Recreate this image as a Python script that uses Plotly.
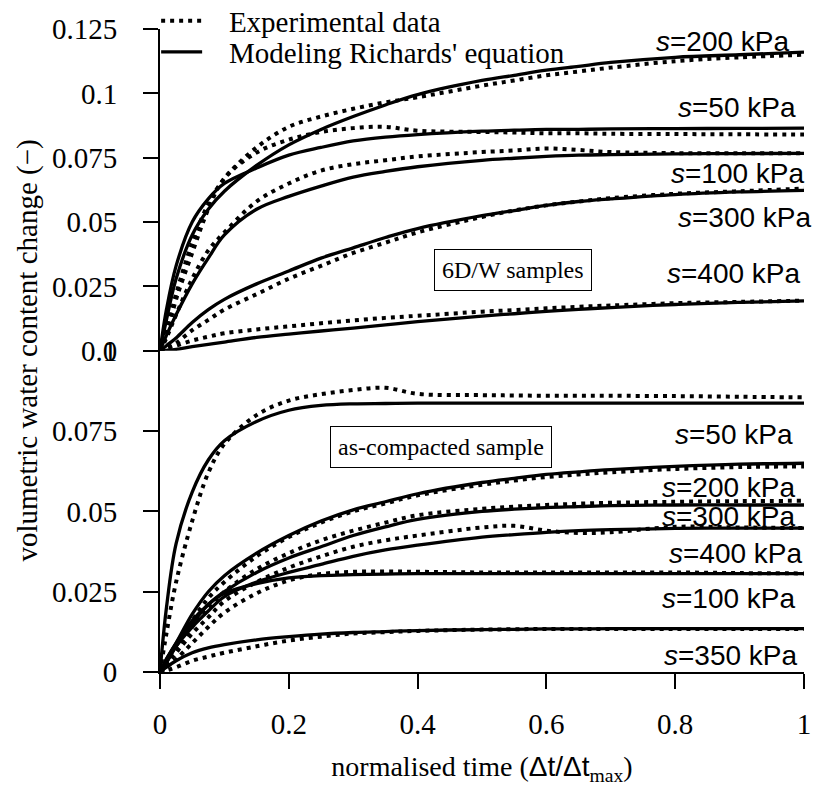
import plotly.graph_objects as go

# normalised time grid
t = [0, 0.01, 0.025, 0.05, 0.075, 0.1, 0.15, 0.2, 0.25, 0.3, 0.35, 0.4, 0.5, 0.55, 0.6, 0.65, 0.7, 0.8, 0.9, 1.0]

# ---- 6D/W samples (upper panel) ----
top_labels = ["200", "50", "100", "300", "400"]
top_model_200 = [0, 0.012, 0.028, 0.045, 0.055, 0.062, 0.072, 0.080, 0.086, 0.091, 0.0955, 0.0995, 0.105, 0.107, 0.109, 0.1105, 0.112, 0.114, 0.115, 0.116]
top_model_50 = [0, 0.016, 0.033, 0.050, 0.059, 0.065, 0.071, 0.076, 0.079, 0.0815, 0.083, 0.084, 0.0853, 0.0857, 0.086, 0.086, 0.0862, 0.0863, 0.0864, 0.0865]
top_model_100 = [0, 0.006, 0.014, 0.026, 0.036, 0.045, 0.055, 0.060, 0.064, 0.0675, 0.0697, 0.0715, 0.074, 0.0748, 0.0755, 0.076, 0.0762, 0.0765, 0.0766, 0.0767]
top_model_300 = [0, 0.002, 0.005, 0.011, 0.016, 0.020, 0.026, 0.031, 0.036, 0.040, 0.044, 0.0475, 0.0525, 0.0545, 0.0565, 0.058, 0.059, 0.0607, 0.0617, 0.0623]
top_model_400 = [0, 0.0002, 0.0006, 0.0016, 0.0025, 0.0034, 0.0052, 0.0065, 0.0077, 0.0088, 0.0101, 0.0113, 0.0135, 0.0144, 0.0153, 0.0161, 0.0168, 0.018, 0.0188, 0.0194]

top_exp_200 = [0, 0.008, 0.022, 0.042, 0.057, 0.067, 0.079, 0.087, 0.091, 0.094, 0.0965, 0.0985, 0.103, 0.105, 0.107, 0.1085, 0.110, 0.1125, 0.114, 0.115]
top_exp_50 = [0, 0.006, 0.020, 0.038, 0.055, 0.067, 0.077, 0.082, 0.085, 0.0865, 0.087, 0.0855, 0.085, 0.0848, 0.0845, 0.0845, 0.0843, 0.0842, 0.0841, 0.084]
top_exp_100 = [0, 0.005, 0.014, 0.028, 0.039, 0.046, 0.058, 0.065, 0.070, 0.0725, 0.074, 0.0755, 0.0772, 0.0778, 0.0786, 0.078, 0.0772, 0.0768, 0.0767, 0.0767]
top_exp_300 = [0, 0.001, 0.003, 0.008, 0.012, 0.016, 0.022, 0.028, 0.033, 0.038, 0.042, 0.046, 0.052, 0.0545, 0.0565, 0.058, 0.0593, 0.061, 0.062, 0.063]
top_exp_400 = [0, 0.001, 0.002, 0.004, 0.0055, 0.0068, 0.0083, 0.0095, 0.0107, 0.0118, 0.0128, 0.0136, 0.0152, 0.0158, 0.0165, 0.0171, 0.0176, 0.0185, 0.019, 0.0195]

# ---- as-compacted sample (lower panel) ----
bot_labels = ["50", "200", "300", "400", "100", "350"]
bot_model_50 = [0, 0.020, 0.040, 0.056, 0.066, 0.072, 0.078, 0.0815, 0.083, 0.0835, 0.0836, 0.0837, 0.0837, 0.0837, 0.0837, 0.0837, 0.0837, 0.0837, 0.0837, 0.0837]
bot_model_200 = [0, 0.004, 0.009, 0.018, 0.025, 0.030, 0.037, 0.0425, 0.047, 0.0505, 0.053, 0.0555, 0.059, 0.0603, 0.0615, 0.0623, 0.063, 0.064, 0.0647, 0.065]
bot_model_300 = [0, 0.003, 0.008, 0.015, 0.021, 0.025, 0.031, 0.0355, 0.039, 0.0425, 0.0452, 0.0475, 0.050, 0.0507, 0.0512, 0.0515, 0.0518, 0.052, 0.052, 0.052]
bot_model_400 = [0, 0.003, 0.008, 0.014, 0.019, 0.0235, 0.028, 0.031, 0.0335, 0.036, 0.038, 0.0395, 0.042, 0.0428, 0.0435, 0.044, 0.0443, 0.0447, 0.0448, 0.0448]
bot_model_100 = [0, 0.004, 0.009, 0.016, 0.021, 0.0245, 0.0275, 0.0293, 0.030, 0.0303, 0.0305, 0.0306, 0.0306, 0.0306, 0.0306, 0.0306, 0.0306, 0.0306, 0.0306, 0.0306]
bot_model_350 = [0, 0.0015, 0.0035, 0.006, 0.0075, 0.0085, 0.010, 0.011, 0.0118, 0.0123, 0.0126, 0.0129, 0.0132, 0.0133, 0.0134, 0.0134, 0.0135, 0.0135, 0.0135, 0.0135]

bot_exp_50 = [0, 0.012, 0.028, 0.047, 0.062, 0.071, 0.080, 0.0845, 0.0865, 0.0878, 0.0885, 0.0866, 0.0862, 0.0861, 0.086, 0.086, 0.086, 0.0859, 0.0857, 0.0855]
bot_exp_200 = [0, 0.003, 0.008, 0.016, 0.023, 0.028, 0.036, 0.042, 0.0465, 0.050, 0.0525, 0.055, 0.0583, 0.0596, 0.0607, 0.0615, 0.0622, 0.0632, 0.0638, 0.064]
bot_exp_300 = [0, 0.003, 0.007, 0.014, 0.020, 0.025, 0.032, 0.037, 0.041, 0.044, 0.0465, 0.0488, 0.0508, 0.0515, 0.052, 0.0524, 0.0527, 0.053, 0.0532, 0.0533]
bot_exp_400 = [0, 0.002, 0.006, 0.012, 0.017, 0.022, 0.028, 0.0325, 0.036, 0.039, 0.041, 0.0425, 0.045, 0.0455, 0.044, 0.0433, 0.0435, 0.0452, 0.045, 0.0448]
bot_exp_100 = [0, 0.0015, 0.004, 0.009, 0.014, 0.0185, 0.0245, 0.0285, 0.0305, 0.0312, 0.0313, 0.0312, 0.031, 0.031, 0.031, 0.031, 0.031, 0.031, 0.0308, 0.0307]
bot_exp_350 = [0, 0.0005, 0.0015, 0.0035, 0.0048, 0.006, 0.008, 0.0098, 0.011, 0.012, 0.0124, 0.0128, 0.0132, 0.0133, 0.0134, 0.0134, 0.0134, 0.0134, 0.0134, 0.0134]

y_ticks_top = [0, 0.025, 0.05, 0.075, 0.1, 0.125]
y_text_top = ["0", "0.025", "0.05", "0.075", "0.1", "0.125"]
y_ticks_bot = [0, 0.025, 0.05, 0.075, 0.1]
y_text_bot = ["0", "0.025", "0.05", "0.075", "0.1"]
x_ticks = [0, 0.2, 0.4, 0.6, 0.8, 1.0]
x_text = ["0", "0.2", "0.4", "0.6", "0.8", "1"]

SERIF = "Liberation Serif"
SANS = "Liberation Sans"
NB = "\u00a0"

top_model = [top_model_200, top_model_50, top_model_100, top_model_300, top_model_400]
top_exp = [top_exp_200, top_exp_50, top_exp_100, top_exp_300, top_exp_400]
bot_model = [bot_model_50, bot_model_200, bot_model_300, bot_model_400, bot_model_100, bot_model_350]
bot_exp = [bot_exp_50, bot_exp_200, bot_exp_300, bot_exp_400, bot_exp_100, bot_exp_350]

dot_line = dict(color="black", width=4, dash="4px,5px")
solid_line = dict(color="black", width=3.3)

fig = go.Figure()
first_exp = True
first_mod = True
for exps, mods, yax in [(top_exp, top_model, "y2"), (bot_exp, bot_model, "y")]:
    for ye in exps:
        fig.add_trace(go.Scatter(x=t, y=ye, mode="lines", yaxis=yax, line=dot_line,
                                 line_shape="spline", name=NB * 3 + "Experimental data",
                                 showlegend=first_exp, legend="legend"))
        first_exp = False
    for ym in mods:
        fig.add_trace(go.Scatter(x=t, y=ym, mode="lines", yaxis=yax, line=solid_line,
                                 line_shape="spline", name=NB * 3 + "Modeling Richards' equation",
                                 showlegend=first_mod, legend="legend2"))
        first_mod = False

# label anchors: right end of the axis (x=1) with pixel shifts
ann = []
top_pos = [(-12, 0.1202), (-6, 0.0946), (3, 0.069), (10, 0.0519), (-1, 0.0302)]
for lab, (dx, yy) in zip(top_labels, top_pos):
    ann.append(dict(x=1, y=yy, xref="x", yref="y2", xshift=dx, text=f"<i>s</i>={lab} kPa",
                    showarrow=False, xanchor="right", yanchor="middle",
                    font=dict(family=SANS, size=28, color="black")))
bot_pos = [(-9, 0.0741), (-6, 0.0575), (-6, 0.0485), (1, 0.037), (-6, 0.023), (-4, 0.0052)]
for lab, (dx, yy) in zip(bot_labels, bot_pos):
    ann.append(dict(x=1, y=yy, xref="x", yref="y", xshift=dx, text=f"<i>s</i>={lab} kPa",
                    showarrow=False, xanchor="right", yanchor="middle",
                    font=dict(family=SANS, size=28, color="black")))
ann.append(dict(x=0.548, y=0.0313, xref="x", yref="y2", text="6D/W samples", showarrow=False,
                bordercolor="black", borderwidth=1, borderpad=7, bgcolor="white",
                font=dict(family=SERIF, size=24, color="black")))
ann.append(dict(x=0.436, y=0.070, xref="x", yref="y", text="as-compacted sample", showarrow=False,
                bordercolor="black", borderwidth=1, borderpad=7, bgcolor="white",
                font=dict(family=SERIF, size=24, color="black")))
ann.append(dict(text="volumetric water content change (−)", textangle=-90,
                x=-(152 - 19) / 644, y=0.5, xref="paper", yref="paper", showarrow=False,
                xanchor="center", yanchor="middle",
                font=dict(family=SERIF, size=29, color="black")))

axis_common = dict(showline=True, linecolor="black", linewidth=2, ticks="outside",
                   ticklen=15, tickwidth=2, tickcolor="black", showgrid=False, zeroline=False,
                   automargin=False,
                   tickfont=dict(family=SERIF, size=29, color="black"))

fig.update_layout(
    width=820, height=789,
    margin=dict(l=152, r=24, t=21, b=125, autoexpand=False),
    paper_bgcolor="white", plot_bgcolor="white",
    font=dict(family=SERIF, color="black"),
    xaxis=dict(range=[0, 1], tickvals=x_ticks, ticktext=x_text, anchor="y",
               ticklabelstandoff=10,
               title=dict(text="normalised time (<span style='font-family:Liberation Sans'>Δt/Δt</span><sub>max</sub>)",
                          font=dict(family=SERIF, size=28, color="black"), standoff=18),
               **axis_common),
    yaxis=dict(domain=[0, 0.4995], range=[0, 0.1], tickvals=y_ticks_bot, ticktext=y_text_bot,
               anchor="x", ticklabelstandoff=20, **axis_common),
    yaxis2=dict(domain=[0.4995, 1], range=[0, 0.125], tickvals=y_ticks_top, ticktext=y_text_top,
                anchor="x", ticklabelstandoff=20, **axis_common),
    legend=dict(x=-0.006, y=1 - 13 / 789, yref="container", xanchor="left", yanchor="middle",
                itemwidth=41, font=dict(family=SERIF, size=29, color="black"),
                bgcolor="rgba(0,0,0,0)"),
    legend2=dict(x=-0.006, y=1 - 44 / 789, yref="container", xanchor="left", yanchor="middle",
                 itemwidth=41, font=dict(family=SERIF, size=29, color="black"),
                 bgcolor="rgba(0,0,0,0)"),
    annotations=ann,
)

fig.write_html("out.html")
